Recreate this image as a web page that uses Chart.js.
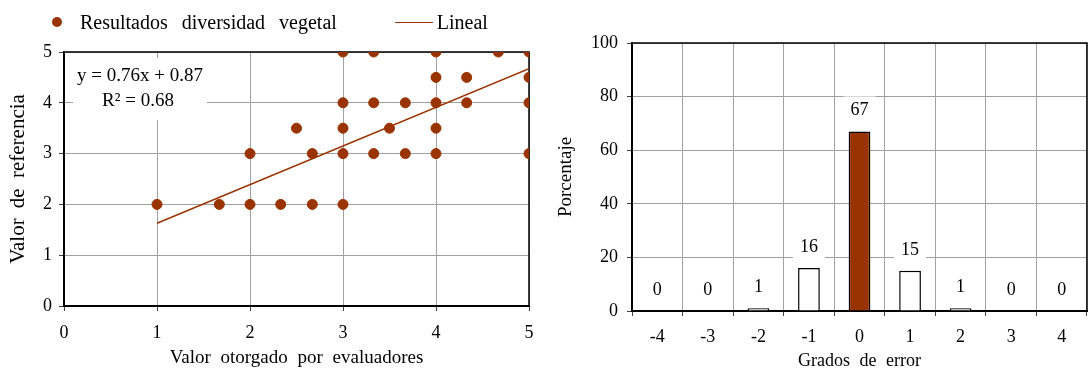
<!DOCTYPE html>
<html lang="es">
<head>
<meta charset="utf-8">
<title>Diversidad vegetal</title>
<script src="https://cdn.jsdelivr.net/npm/chart.js@4.4.1/dist/chart.umd.min.js"></script>
<style>
    body { margin: 0; background: #fff; }
    #wrap { position: relative; width: 1090px; height: 374px; overflow: hidden; }
    .panel { position: absolute; top: 0; width: 545px; height: 374px; }
    #left { left: 0; }
    #right { left: 545px; }
    #legend {
        position: absolute; left: 52px; top: 10px; height: 24px;
        display: flex; align-items: center;
        font-family: 'Liberation Serif', 'Times New Roman', serif;
        font-size: 20px; word-spacing: 9px; color: #000;
    }
    .item { display: flex; align-items: center; white-space: nowrap; }
    .item + .item { margin-left: 58px; }
    .dot { width: 10px; height: 10px; border-radius: 50%; margin-right: 18px; }
    .bar { width: 38px; height: 0; border-top: 1.5px solid; margin-right: 4px; }
</style>
</head>
<body>
<div id="wrap">
    <div class="panel" id="left">
        <canvas id="scatterChart" width="545" height="374"></canvas>
        <div id="legend"></div>
    </div>
    <div class="panel" id="right">
        <canvas id="errorChart" width="545" height="374"></canvas>
    </div>
</div>
<script>
// Datos: valor otorgado por evaluadores (x) y valor de referencia (y)
const evalX = [3, 3.33, 4, 4.67, 5,
    4, 4.33, 5,
    3, 3.33, 3.67, 4, 4.33, 5,
    2.5, 3, 3.5, 4,
    2, 2.67, 3, 3.33, 3.67, 4, 5,
    1, 1.67, 2, 2.33, 2.67, 3];
const refY = [5, 5, 5, 5, 5,
    4.5, 4.5, 4.5,
    4, 4, 4, 4, 4, 4,
    3.5, 3.5, 3.5, 3.5,
    3, 3, 3, 3, 3, 3, 3,
    2, 2, 2, 2, 2, 2];

// Recta de regresion (extremos)
const trendX = [1, 5];
const trendY = [1.63, 4.67];
const equation = ['y = 0.76x + 0.87', 'R\u00B2 = 0.68'];

// Grados de error (%)
const errorLabels = ['-4', '-3', '-2', '-1', '0', '1', '2', '3', '4'];
const errorValues = [0, 0, 1, 16, 67, 15, 1, 0, 0];

const serif = "'Liberation Serif', 'Times New Roman', serif";
const brown = '#993300';
const gridColor = '#a0a0a0';

// Espaciado entre palabras como en el original
const wordSpacing = {
    id: 'wordSpacing',
    beforeUpdate(chart, args, opts) { chart.ctx.wordSpacing = opts.size; },
    beforeDraw(chart, args, opts) { chart.ctx.wordSpacing = opts.size; }
};

// Marco superior y derecho del area de trazado
const frame = {
    id: 'frame',
    beforeDatasetsDraw(chart) {
        const { ctx, chartArea: a } = chart;
        ctx.save();
        ctx.strokeStyle = '#000';
        ctx.lineWidth = 1.5;
        ctx.beginPath();
        ctx.moveTo(a.left, a.top);
        ctx.lineTo(a.right, a.top);
        ctx.lineTo(a.right, a.bottom);
        ctx.stroke();
        ctx.restore();
    }
};

// Caja con la ecuacion de la recta
const equationBox = {
    id: 'equationBox',
    beforeDatasetsDraw(chart) {
        const { ctx, chartArea: a } = chart;
        ctx.save();
        ctx.fillStyle = '#fff';
        ctx.fillRect(a.left + 9, a.top + 6, 134, 62);
        ctx.wordSpacing = '0px';
        ctx.fillStyle = '#000';
        ctx.font = '19px ' + serif;
        ctx.textAlign = 'center';
        ctx.textBaseline = 'middle';
        ctx.fillText(equation[0], a.left + 76, a.top + 24);
        ctx.fillText(equation[1], a.left + 74, a.top + 49);
        ctx.restore();
    }
};

// Leyenda en HTML
const htmlLegend = {
    id: 'htmlLegend',
    afterUpdate(chart) {
        const box = document.getElementById('legend');
        box.innerHTML = '';
        chart.data.datasets.forEach(ds => {
            const item = document.createElement('span');
            item.className = 'item';
            const mark = document.createElement('span');
            if (ds.showLine) {
                mark.className = 'bar';
                mark.style.borderColor = ds.borderColor;
            } else {
                mark.className = 'dot';
                mark.style.background = ds.backgroundColor;
            }
            item.appendChild(mark);
            item.appendChild(document.createTextNode(ds.label));
            box.appendChild(item);
        });
    }
};

// Etiquetas de valor sobre las barras
const barLabels = {
    id: 'barLabels',
    afterDatasetsDraw(chart) {
        const { ctx } = chart;
        const meta = chart.getDatasetMeta(0);
        ctx.save();
        ctx.font = '18px ' + serif;
        ctx.textAlign = 'center';
        ctx.textBaseline = 'middle';
        meta.data.forEach((bar, i) => {
            const text = String(errorValues[i]);
            const w = ctx.measureText(text).width + 14;
            const y = bar.y - 21;
            ctx.fillStyle = '#fff';
            ctx.fillRect(bar.x - w / 2, y - 14, w, 28);
            ctx.fillStyle = '#000';
            ctx.fillText(text, bar.x, y);
        });
        ctx.restore();
    }
};

function axisScale(title, titleSize, titlePad, tickPad, extra) {
    return Object.assign({
        grid: { color: gridColor, tickColor: '#404040', tickLength: 5 },
        border: { color: '#000', width: 2 },
        ticks: { color: '#000', font: { family: serif, size: 18 }, padding: tickPad },
        title: { display: true, text: title, color: '#000', font: { family: serif, size: titleSize }, padding: titlePad }
    }, extra);
}

// Grafico de dispersion
new Chart(document.getElementById('scatterChart'), {
    type: 'scatter',
    data: {
        datasets: [
            {
                label: 'Resultados diversidad vegetal',
                data: evalX.map((x, i) => ({ x: x, y: refY[i] })),
                backgroundColor: brown,
                borderColor: brown,
                pointRadius: 5,
                pointHoverRadius: 5,
                order: 1
            },
            {
                type: 'line',
                label: 'Lineal',
                data: trendX.map((x, i) => ({ x: x, y: trendY[i] })),
                showLine: true,
                borderColor: brown,
                borderWidth: 1.5,
                pointRadius: 0,
                fill: false,
                order: 2
            }
        ]
    },
    options: {
        responsive: false,
        animation: false,
        layout: { padding: { top: 52, right: 16, left: 0, bottom: 0 } },
        plugins: {
            legend: { display: false },
            tooltip: { enabled: false },
            wordSpacing: { size: '5px' }
        },
        scales: {
            x: axisScale('Valor otorgado por evaluadores', 19, { top: 0, bottom: 5 }, 11, {
                type: 'linear', min: 0, max: 5,
                ticks: { color: '#000', font: { family: serif, size: 18 }, padding: 11, stepSize: 1 },
                afterFit(scale) { scale.height = 68; }
            }),
            y: axisScale('Valor de referencia', 21, { top: 6, bottom: 0 }, 7, {
                min: 0, max: 5,
                ticks: { color: '#000', font: { family: serif, size: 18 }, padding: 7, stepSize: 1 },
                afterFit(scale) { scale.width = 64; }
            })
        }
    },
    plugins: [wordSpacing, frame, equationBox, htmlLegend]
});

// Grafico de barras de grados de error
new Chart(document.getElementById('errorChart'), {
    type: 'bar',
    data: {
        labels: errorLabels,
        datasets: [{
            label: 'Porcentaje',
            data: errorValues,
            backgroundColor: errorValues.map((v, i) => errorLabels[i] === '0' ? brown : '#fff'),
            borderColor: '#000',
            borderWidth: 1.5,
            categoryPercentage: 1,
            barPercentage: 0.43
        }]
    },
    options: {
        responsive: false,
        animation: false,
        layout: { padding: { top: 43, right: 3, left: 0, bottom: 0 } },
        plugins: {
            legend: { display: false },
            tooltip: { enabled: false },
            wordSpacing: { size: '5px' }
        },
        scales: {
            x: axisScale('Grados de error', 18, { top: 0, bottom: 2 }, 10, {
                grid: { color: gridColor, tickColor: '#404040', tickLength: 5, offset: true },
                afterFit(scale) { scale.height = 63; }
            }),
            y: axisScale('Porcentaje', 19, { top: 10, bottom: 0 }, 9, {
                min: 0, max: 100,
                ticks: { color: '#000', font: { family: serif, size: 18 }, padding: 9, stepSize: 20 },
                afterFit(scale) { scale.width = 87; }
            })
        }
    },
    plugins: [wordSpacing, frame, barLabels]
});
</script>
</body>
</html>
